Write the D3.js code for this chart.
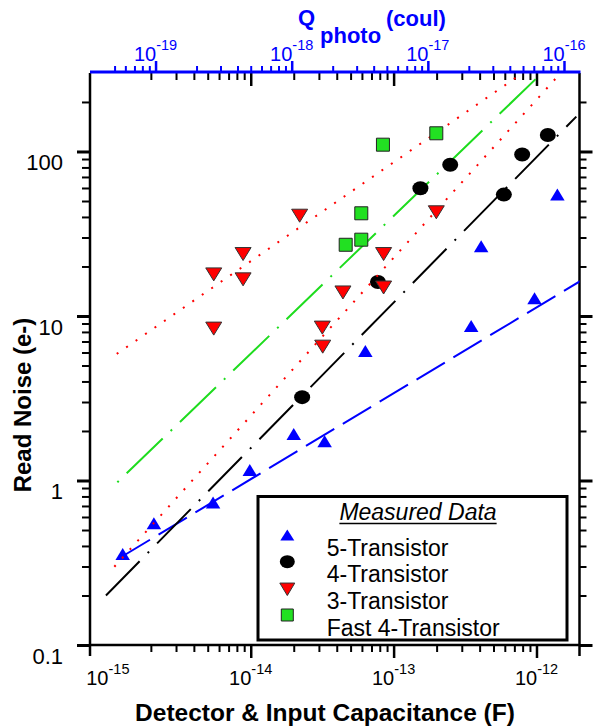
<!DOCTYPE html>
<html>
<head>
<meta charset="utf-8">
<script src="https://cdn.jsdelivr.net/npm/d3@7"></script>
<style>
  body { margin: 0; background: #fff; }
  text { font-family: "Liberation Sans", Arial, sans-serif; }
</style>
</head>
<body>
<svg id="chart" width="603" height="726"></svg>
<script>
// measured points: [capacitance (F), read noise (e-)]
const fiveTransistor = [
  [1.27e-15, 0.357], [2.1e-15, 0.55], [5.45e-15, 0.734], [9.85e-15, 1.16],
  [2.0e-14, 1.92], [3.29e-14, 1.73], [6.34e-14, 6.12], [3.49e-13, 8.69],
  [4.1e-13, 26.5], [9.69e-13, 12.8], [1.4e-12, 54.7]
];
const fourTransistor = [
  [2.29e-14, 3.21], [7.77e-14, 16.1], [1.54e-13, 59.8], [2.49e-13, 83],
  [5.91e-13, 54.7], [7.94e-13, 95.9], [1.2e-12, 126]
];
const threeTransistor = [
  [2.2e-14, 40.7], [8.84e-15, 23.8], [5.51e-15, 17.9], [8.84e-15, 16.7],
  [5.51e-15, 8.38], [3.17e-14, 8.5], [3.19e-14, 6.51], [1.99e-13, 42.7],
  [8.51e-14, 23.8], [4.42e-14, 13.9], [8.51e-14, 14.9]
];
const fastFourTransistor = [
  [8.42e-14, 110], [1.99e-13, 129], [5.94e-14, 42.1], [5.94e-14, 29.1], [4.62e-14, 27.1]
];

// fitted trend lines (end points)
const fitFiveTransistor = [[1.25e-15, 0.344], [2.05e-12, 16.4]];
const fitFourTransistor = [[0.97e-15, 0.2], [1.9e-12, 163]];
const fitFastFourTransistor = [[1.165e-15, 0.975], [1.3e-12, 347]];
const fitThreeTransistorUpper = [[1.154e-15, 5.88], [9e-13, 322]];
const fitThreeTransistorLower = [[1.11e-15, 0.299], [1.6e-12, 324]];

const xTickExponents = [-15, -14, -13, -12];
const qTickExponents = [-19, -18, -17, -16];
const yTickValues = [0.1, 1, 10, 100];
const yTickLabels = ["0.1", "1", "10", "100"];
const legendLabels = ["5-Transistor", "4-Transistor", "3-Transistor", "Fast 4-Transistor"];

const svg = d3.select("#chart");
const plotLeft = 90, plotRight = 579.5, plotTop = 73, plotBottom = 645;

const x = d3.scaleLog().domain([7.5e-16, 2e-12]).range([plotLeft, plotRight]);
const q = d3.scaleLog().domain([3.3e-20, 1.3e-16]).range([plotLeft, plotRight]);
const y = d3.scaleLog().domain([0.1, 300]).range([plotBottom, plotTop]);

const blue = "#0000ff", red = "#ff0000", green = "#22e022", greenLine = "#1edc1e";

const isMajor = v => Math.abs(Math.log10(v) - Math.round(Math.log10(v))) < 1e-6;

const xTicks = x.ticks().filter(v => v >= 1.5e-15 && v < 1.95e-12);
const qTicks = q.ticks().filter(v => v >= 4.5e-20);
const yTicks = y.ticks().filter(v => v < 290);

const drawTicks = (axisFn, scale, values, size, transform, color, width) => {
  const g = svg.append("g")
    .attr("transform", transform)
    .call(axisFn(scale).tickValues(values).tickSize(size).tickSizeOuter(0).tickFormat(""));
  g.select(".domain").remove();
  g.selectAll("text").remove();
  g.selectAll("line").attr("stroke", color).attr("stroke-width", width);
};

// bottom + top (black, inward) ticks for capacitance
drawTicks(d3.axisBottom, x, xTicks.filter(v => !isMajor(v)), 7, `translate(0,${plotBottom})`, "#000", 2);
drawTicks(d3.axisBottom, x, xTicks.filter(isMajor), 13, `translate(0,${plotBottom})`, "#000", 2.5);
drawTicks(d3.axisBottom, x, xTicks.filter(v => !isMajor(v)), 7, `translate(0,${plotTop})`, "#000", 2);
drawTicks(d3.axisBottom, x, xTicks.filter(isMajor), 13, `translate(0,${plotTop})`, "#000", 2.5);

// left + right ticks for read noise
drawTicks(d3.axisLeft, y, yTicks.filter(v => !isMajor(v)), 8, `translate(${plotLeft},0)`, "#000", 2);
drawTicks(d3.axisLeft, y, yTicks.filter(isMajor), 13, `translate(${plotLeft},0)`, "#000", 3);
drawTicks(d3.axisRight, y, yTicks.filter(v => !isMajor(v)), 7, `translate(${plotRight},0)`, "#000", 2);
drawTicks(d3.axisRight, y, yTicks.filter(isMajor), 13, `translate(${plotRight},0)`, "#000", 3);

// frame
svg.append("line").attr("x1", plotLeft).attr("x2", plotLeft).attr("y1", plotTop).attr("y2", plotBottom + 11)
  .attr("stroke", "#000").attr("stroke-width", 2.5);
svg.append("line").attr("x1", plotRight).attr("x2", plotRight).attr("y1", plotTop).attr("y2", plotBottom + 11)
  .attr("stroke", "#000").attr("stroke-width", 2.5);
svg.append("line").attr("x1", plotLeft).attr("x2", plotRight).attr("y1", plotBottom).attr("y2", plotBottom)
  .attr("stroke", "#000").attr("stroke-width", 2.5);

// top blue Q axis
drawTicks(d3.axisTop, q, qTicks.filter(v => !isMajor(v)), 6, `translate(0,${plotTop - 1})`, blue, 2);
drawTicks(d3.axisTop, q, qTicks.filter(isMajor), 11, `translate(0,${plotTop - 1})`, blue, 2.5);
svg.append("line").attr("x1", plotLeft).attr("x2", plotRight + 1).attr("y1", plotTop - 1).attr("y2", plotTop - 1)
  .attr("stroke", blue).attr("stroke-width", 3);

// tick labels
const powerLabel = (g, exp, px, py, color) => {
  const t = g.append("text").attr("x", px).attr("y", py)
    .attr("text-anchor", "middle").attr("fill", color).attr("font-size", 20);
  t.append("tspan").text("10");
  t.append("tspan").attr("dy", -11).attr("font-size", 14.5).text(String(exp));
};
const labels = svg.append("g");
xTickExponents.forEach(e => powerLabel(labels, e, x(Math.pow(10, e)), 685, "#000"));
qTickExponents.forEach(e => powerLabel(labels, e, q(Math.pow(10, e)), 61, blue));
yTickValues.forEach((v, i) => {
  labels.append("text").attr("x", 63).attr("y", y(v) + 19)
    .attr("text-anchor", "end").attr("font-size", 22).text(yTickLabels[i]);
});

// axis titles
svg.append("text").attr("x", 325).attr("y", 721).attr("text-anchor", "middle")
  .attr("font-size", 24.5).attr("font-weight", "bold").text("Detector & Input Capacitance (F)");
svg.append("text").attr("transform", "translate(31,405) rotate(-90)").attr("text-anchor", "middle")
  .attr("font-size", 24).attr("font-weight", "bold").text("Read Noise (e-)");
const qTitle = svg.append("text").attr("fill", blue).attr("font-size", 22).attr("font-weight", "bold");
qTitle.append("tspan").attr("x", 298).attr("y", 25).text("Q");
qTitle.append("tspan").attr("x", 320).attr("y", 43).text("photo");
qTitle.append("tspan").attr("x", 386).attr("y", 26).text("(coul)");

// plot area
svg.append("clipPath").attr("id", "plot-clip").append("rect")
  .attr("x", plotLeft).attr("y", plotTop).attr("width", plotRight - plotLeft).attr("height", plotBottom - plotTop);
const plot = svg.append("g").attr("clip-path", "url(#plot-clip)");

const line = d3.line().x(d => x(d[0])).y(d => y(d[1]));

const drawFit = (data, color, dash) => {
  plot.append("path").attr("d", line(data)).attr("fill", "none")
    .attr("stroke", color).attr("stroke-width", 2).attr("stroke-dasharray", dash);
};

const triUp = (w, h) => `M0,${-h / 2}L${w / 2},${h / 2}L${-w / 2},${h / 2}Z`;
const triDown = (w, h) => `M${-w / 2},${-h / 2}L${w / 2},${-h / 2}L0,${h / 2}Z`;
const square = s => `M${-s / 2},${-s / 2}h${s}v${s}h${-s}Z`;
const ellipse = (rx, ry) => `M${-rx},0a${rx},${ry} 0 1,0 ${2 * rx},0a${rx},${ry} 0 1,0 ${-2 * rx},0Z`;

const drawMarkers = (data, shape, fill, stroke, strokeWidth) => {
  plot.append("g").selectAll("path").data(data).enter().append("path")
    .attr("transform", d => `translate(${x(d[0])},${y(d[1])})`)
    .attr("d", shape)
    .attr("fill", fill)
    .attr("stroke", stroke)
    .attr("stroke-width", strokeWidth);
};

drawFit(fitFiveTransistor, blue, "33,10");
drawFit(fitFourTransistor, "#000", "48,11.5,2,11.5");
drawFit(fitFastFourTransistor, greenLine, "2,11,50,11");

drawMarkers(fiveTransistor, triUp(14.5, 12), blue, "none", 0);
drawMarkers(fourTransistor, ellipse(8, 7), "#000", "none", 0);

drawFit(fitThreeTransistorUpper, red, "2,9.5");
drawFit(fitThreeTransistorLower, red, "2,9.5");

drawMarkers(threeTransistor, triDown(16, 13), red, "#333", 1);
drawMarkers(fastFourTransistor, square(13), green, "#222", 1);

// legend
const legend = svg.append("g");
legend.append("rect").attr("x", 258).attr("y", 496.5).attr("width", 309).attr("height", 143.5)
  .attr("fill", "#fff").attr("stroke", "#000").attr("stroke-width", 3);
const legendTitle = legend.append("text").attr("x", 418).attr("y", 520).attr("text-anchor", "middle")
  .attr("font-size", 23).attr("font-style", "italic").text("Measured Data");
const tb = legendTitle.node().getBBox();
legend.append("line").attr("x1", tb.x).attr("x2", tb.x + tb.width).attr("y1", 523.5).attr("y2", 523.5)
  .attr("stroke", "#000").attr("stroke-width", 1.5);

const legendSymbols = [
  { d: triUp(14, 11), fill: blue, stroke: "none" },
  { d: ellipse(7.5, 6.5), fill: "#000", stroke: "none" },
  { d: triDown(15, 12.5), fill: red, stroke: "#333" },
  { d: square(12), fill: green, stroke: "#222" }
];
const symbolY = [535, 561.7, 589.3, 615];
const labelY = [556, 581.7, 609.3, 636];
legendLabels.forEach((label, i) => {
  legend.append("path").attr("transform", `translate(287.3,${symbolY[i]})`)
    .attr("d", legendSymbols[i].d).attr("fill", legendSymbols[i].fill)
    .attr("stroke", legendSymbols[i].stroke).attr("stroke-width", 1);
  legend.append("text").attr("x", 326.7).attr("y", labelY[i]).attr("font-size", 23).text(label);
});
</script>
</body>
</html>
